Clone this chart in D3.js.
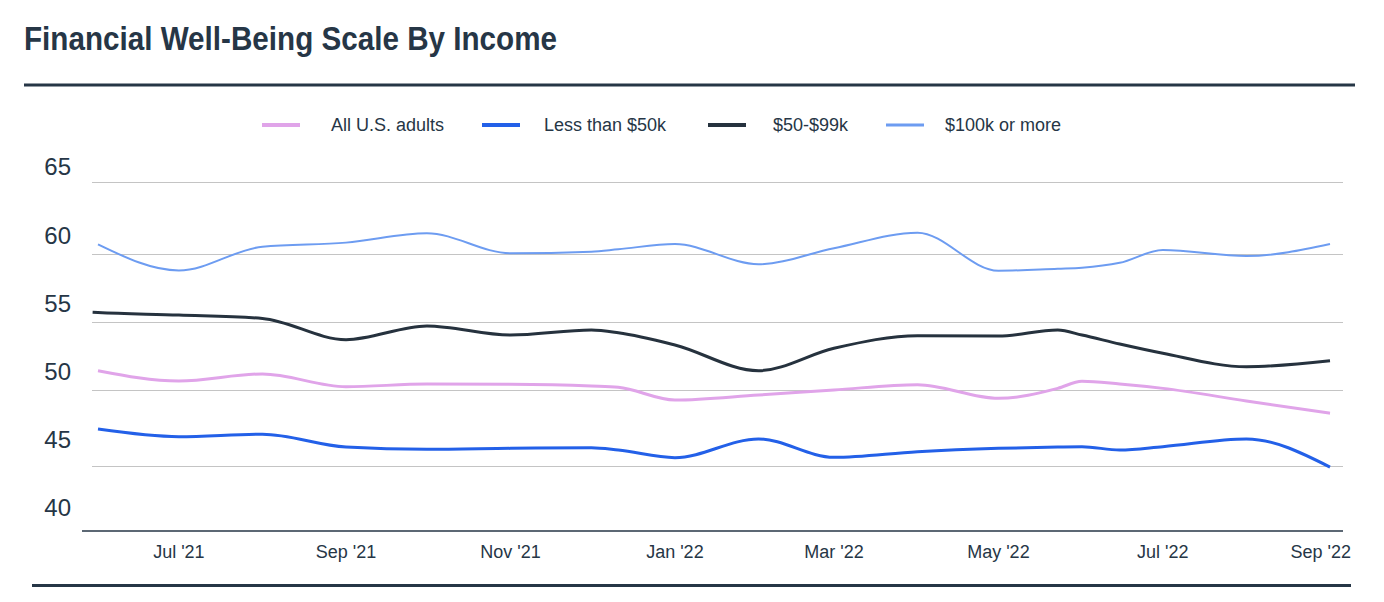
<!DOCTYPE html>
<html>
<head>
<meta charset="utf-8">
<script src="https://cdn.jsdelivr.net/npm/d3@7"></script>
<style>
  html, body { margin: 0; padding: 0; background: #ffffff; }
  svg { display: block; }
</style>
</head>
<body>
<svg id="chart" width="1384" height="602"></svg>
<script>
// ---- Data ----
const titleText = "Financial Well-Being Scale By Income";
const seriesNames = ["All U.S. adults", "Less than $50k", "$50-$99k", "$100k or more"];
const dates = ["2021-05-30","2021-06-01","2021-07-01","2021-08-01","2021-09-01","2021-10-01","2021-11-01",
  "2021-12-01","2021-12-11","2022-01-01","2022-02-01","2022-03-01","2022-04-01","2022-05-01",
  "2022-05-23","2022-06-01","2022-06-15","2022-07-01","2022-08-01","2022-09-01"];
const allAdults  = [null, 51.42, 50.66, 51.18, 50.24, 50.44, 50.42, 50.29, 50.20, 49.34, 49.67, 50.00, 50.39, 49.45, 50.12, 50.64, 50.44, 50.12, 49.28, 48.47];
const under50k   = [null, 47.43, 46.93, 47.09, 46.25, 46.10, 46.16, 46.20, 46.05, 45.55, 46.78, 45.57, 45.94, 46.16, 46.25, 46.27, 46.05, 46.27, 46.78, 44.92];
const mid50to99k = [55.71, 55.69, 55.51, 55.26, 53.70, 54.71, 54.04, 54.41, 54.21, 53.31, 51.42, 53.07, 53.99, 53.97, 54.41, 54.04, 53.38, 52.70, 51.71, 52.15];
const over100k   = [null, 60.67, 58.79, 60.51, 60.79, 61.44, 60.05, 60.16, 60.33, 60.69, 59.25, 60.40, 61.48, 58.77, 58.92, 58.99, 59.35, 60.28, 59.85, 60.69];
const yTicks = [40, 45, 50, 55, 60, 65];
const xTickDates = ["2021-07-01","2021-09-01","2021-11-01","2022-01-01","2022-03-01","2022-05-01","2022-07-01","2022-09-01"];

// ---- Styles ----
const ink = "#263646";
const colors = ["#e0a4e9", "#2360e8", "#26323e", "#6d9cf1"];
const widths = [3, 3, 3, 2];

const svg = d3.select("#chart");
svg.append("rect").attr("width", 1384).attr("height", 602).attr("fill", "#fff");

const parse = d3.utcParse("%Y-%m-%d");
const x = d3.scaleUtc()
  .domain([parse("2021-06-01"), parse("2022-09-01")])
  .range([98, 1330]);
// Gridline / data scale (as in the reference, gridlines are not evenly spaced)
const y = d3.scaleLinear()
  .domain([40, 45, 50, 55, 60, 65])
  .range([531, 466, 390, 322, 254, 182]);
// Tick label placement scale
const yLab = d3.scaleLinear().domain([40, 65]).range([508, 167]);

// Title
svg.append("text")
  .attr("x", 24).attr("y", 50)
  .attr("font-family", "Liberation Sans, Arial, sans-serif")
  .attr("font-weight", "bold")
  .attr("font-size", 34)
  .attr("fill", ink)
  .attr("textLength", 533)
  .attr("lengthAdjust", "spacingAndGlyphs")
  .text(titleText);

// Top and bottom rules
svg.append("line").attr("x1", 24).attr("x2", 1355).attr("y1", 85).attr("y2", 85)
  .attr("stroke", ink).attr("stroke-width", 3);
svg.append("line").attr("x1", 32).attr("x2", 1351).attr("y1", 585.5).attr("y2", 585.5)
  .attr("stroke", ink).attr("stroke-width", 3);

// Gridlines
const gridG = svg.append("g");
gridG.selectAll("line").data(yTicks.filter(t => t > 40)).join("line")
  .attr("x1", 92).attr("x2", 1343)
  .attr("y1", d => Math.round(y(d)) + 0.5).attr("y2", d => Math.round(y(d)) + 0.5)
  .attr("stroke", "#c4c4c4").attr("stroke-width", 1);

// Baseline axis line
svg.append("line").attr("x1", 82).attr("x2", 1343).attr("y1", 531).attr("y2", 531)
  .attr("stroke", ink).attr("stroke-width", 1.5);

// Y labels
svg.append("g").selectAll("text").data(yTicks).join("text")
  .attr("x", 71).attr("y", d => yLab(d))
  .attr("dy", "0.35em")
  .attr("text-anchor", "end")
  .attr("font-family", "Liberation Sans, Arial, sans-serif")
  .attr("font-size", 24)
  .attr("fill", ink)
  .text(d => d);

// X labels
const fmt = d3.utcFormat("%b '%y");
const xl = svg.append("g").selectAll("text").data(xTickDates.map(parse)).join("text")
  .attr("x", d => x(d)).attr("y", 552)
  .attr("dy", "0.35em")
  .attr("text-anchor", "middle")
  .attr("font-family", "Liberation Sans, Arial, sans-serif")
  .attr("font-size", 18)
  .attr("fill", ink)
  .text(d => fmt(d));
xl.each(function(d) {
  const w = this.getComputedTextLength();
  const cx = x(d);
  const maxRight = 1351;
  if (cx + w / 2 > maxRight) d3.select(this).attr("x", maxRight - w / 2);
});

// Lines
const seriesValues = [allAdults, under50k, mid50to99k, over100k];
const line = d3.line()
  .x(d => x(d.date))
  .y(d => y(d.value))
  .curve(d3.curveMonotoneX);
const order = [0, 1, 3, 2];
order.forEach(i => {
  const pts = dates.map((s, k) => ({date: parse(s), value: seriesValues[i][k]}))
    .filter(p => p.value !== null);
  svg.append("path")
    .datum(pts)
    .attr("d", line)
    .attr("fill", "none")
    .attr("stroke", colors[i])
    .attr("stroke-width", widths[i])
    .attr("stroke-linejoin", "round");
});

// Legend
const legendItems = [
  {sx: 262, tx: 331},
  {sx: 482, tx: 544},
  {sx: 708, tx: 773},
  {sx: 886, tx: 945}
];
const lg = svg.append("g");
legendItems.forEach((it, i) => {
  lg.append("line")
    .attr("x1", it.sx).attr("x2", it.sx + 38)
    .attr("y1", 125).attr("y2", 125)
    .attr("stroke", colors[i]).attr("stroke-width", i === 3 ? 3 : 4);
  lg.append("text")
    .attr("x", it.tx).attr("y", 125).attr("dy", "0.35em")
    .attr("font-family", "Liberation Sans, Arial, sans-serif")
    .attr("font-size", 18)
    .attr("fill", ink)
    .text(seriesNames[i]);
});
</script>
</body>
</html>
